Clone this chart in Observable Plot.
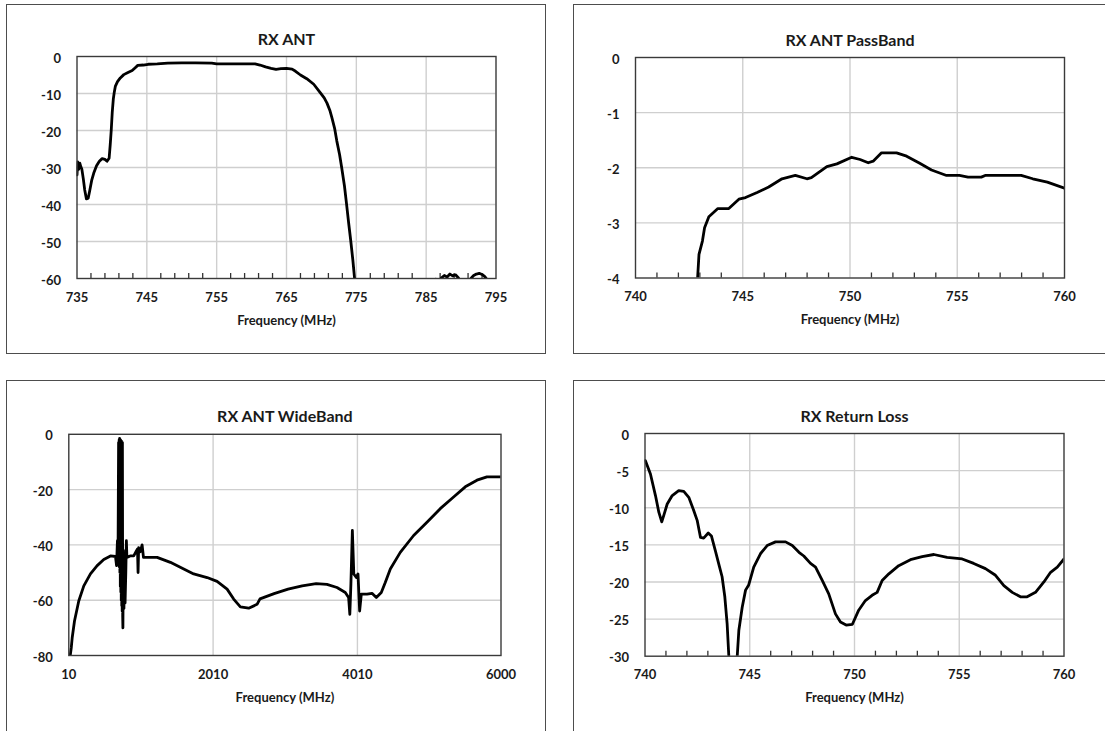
<!DOCTYPE html>
<html><head><meta charset="utf-8">
<script src="https://cdn.jsdelivr.net/npm/d3@7"></script>
<script src="https://cdn.jsdelivr.net/npm/@observablehq/plot@0.6"></script>
<style>
html,body{margin:0;padding:0;background:#fff;}
body{width:1105px;height:731px;overflow:hidden;position:relative;font-family:Lato,"Open Sans",sans-serif;}
.panel{position:absolute;overflow:hidden;}
.panel svg{position:absolute;left:0;top:0;max-width:none;}
.border{position:absolute;left:0;top:0;right:0;bottom:0;border:1px solid #4d4d4d;box-sizing:border-box;pointer-events:none;}
</style></head><body>
<script>
// ---------- Panel 1: RX ANT ----------
const rxAntTitle = "RX ANT";
const rxAntFreq = [735.0,735.1,735.25,735.4,735.55,735.7,735.9,736.1,736.35,736.6,736.8,737.1,737.4,737.8,738.2,738.6,739.0,739.3,739.6,739.75,739.9,740.05,740.2,740.35,740.5,740.8,741.2,741.7,742.3,742.9,743.3,743.7,744.5,745.2,746.5,748,750,752,754.3,755,757,759,760.5,761.2,762,762.8,763.5,764.2,765,765.8,766.3,767.0,767.9,768.9,769.8,770.4,770.8,771.2,771.5,771.9,772.2,772.6,772.9,773.3,773.6,773.9,774.2,774.5,774.75,775.0,780,786.0,786.4,786.8,787.2,787.6,788.0,788.4,788.8,789.2,789.6,790.0,791.0,791.4,791.8,792.2,792.6,793.0,793.4,793.8,794.2,795];
const rxAntLoss = [-32,-28.5,-30.5,-28.8,-29.8,-30.5,-33,-36,-38.5,-38.3,-36.5,-33.5,-31.5,-29.5,-28.3,-27.6,-27.8,-28.3,-27.5,-24,-20,-15,-11.5,-9.5,-8,-6.8,-5.8,-4.9,-4.3,-3.8,-3.1,-2.4,-2.3,-2.1,-2.0,-1.8,-1.7,-1.7,-1.8,-2.0,-2.0,-2.0,-2.0,-2.3,-2.8,-3.2,-3.5,-3.3,-3.2,-3.4,-4.0,-5.0,-6.0,-7.5,-9.7,-11.2,-12.6,-14.5,-16.5,-19.5,-22.8,-26.5,-30,-35,-39.9,-45,-49.8,-55,-60,-64,-68,-62,-60.2,-61,-59.8,-59.2,-59.6,-58.8,-59.3,-59.0,-59.8,-61,-62,-60,-59.2,-58.8,-58.6,-58.9,-59.5,-60.5,-62,-63];
const rxAntXTicks = [735,745,755,765,775,785,795];
const rxAntYTicks = [0,-10,-20,-30,-40,-50,-60];
const rxAntMinor = [737,739,741,743,747,749,751,753,757,759,761,763,767,769,771,773,777,779,781,783,787,789,791,793];

// ---------- Panel 2: RX ANT PassBand ----------
const passTitle = "RX ANT PassBand";
const passFreq = [742.85,742.96,743.12,743.22,743.42,743.84,744.35,744.82,745.13,745.67,746.21,746.83,747.45,747.99,748.2,748.92,749.39,750.08,750.47,750.85,751.08,751.47,752.17,752.64,753.25,753.8,754.5,755.1,755.5,756.12,756.3,757.98,758.52,759.2,760];
const passLoss = [-4.3,-3.57,-3.33,-3.09,-2.89,-2.74,-2.74,-2.57,-2.54,-2.45,-2.35,-2.20,-2.14,-2.20,-2.18,-1.98,-1.93,-1.81,-1.85,-1.91,-1.88,-1.73,-1.73,-1.79,-1.92,-2.04,-2.14,-2.14,-2.17,-2.17,-2.14,-2.14,-2.20,-2.26,-2.37];
const passXTicks = [740,745,750,755,760];
const passYTicks = [0,-1,-2,-3,-4];
const passMinor = [741,742,743,744,746,747,748,749,751,752,753,754,756,757,758,759];

// ---------- Panel 3: RX ANT WideBand ----------
const wideTitle = "RX ANT WideBand";
const wideFreq = [25,45,57,89,148,218,310,403,495,588,657,672,684,692,700,704,708,711,714,718,721,724,727,731,734,737,740,744,747,750,753,757,760,766,774,782,790,800,808,815,860,910,950,962,970,978,1000,1026,1045,1234,1418,1603,1741,1927,2065,2204,2295,2388,2503,2619,2660,2855,3049,3244,3438,3588,3727,3842,3888,3905,3920,3940,3960,3995,4018,4041,4064,4143,4212,4272,4341,4396,4466,4604,4789,4974,5158,5343,5505,5667,5805,6000];
const wideLoss = [-81,-77,-73.6,-67.5,-60.3,-54.8,-50.5,-47.5,-45.3,-44.0,-44.2,-47.5,-38.5,-46,-3,-40,-2,-48,-1.5,-50,-2,-55,-2,-57,-2.5,-60,-2.5,-62,-3,-64,-3,-66,-70,-42,-63,-46,-61,-50,-38.5,-44.5,-44,-44,-42,-41.5,-50,-41,-42.5,-40,-44.5,-44.5,-46.3,-48.7,-50.5,-51.8,-53.2,-56.0,-59.6,-62.4,-62.9,-61.5,-59.5,-57.6,-56,-54.8,-54,-54.3,-55.4,-57.2,-59,-65.1,-54,-34.8,-50.5,-51.8,-50.5,-63.9,-57.8,-57.8,-57.5,-59.0,-57.2,-53.6,-48.7,-42.7,-36.6,-31.8,-26.9,-22.7,-19.0,-16.6,-15.4,-15.4];
const wideXTicks = [10,2010,4010,6000];
const wideYTicks = [0,-20,-40,-60,-80];
const wideMinor = [];

// ---------- Panel 4: RX Return Loss ----------
const rlTitle = "RX Return Loss";
const rlFreq = [740.02,740.26,740.5,740.66,740.8,740.9,741.06,741.3,741.61,741.85,742.09,742.33,742.49,742.65,742.8,743.02,743.17,743.36,743.56,743.68,743.81,743.92,744.02,744.1,744.3,744.38,744.48,744.64,744.8,744.95,745.19,745.51,745.83,746.23,746.71,747.03,747.35,747.58,747.9,748.14,748.46,748.77,749.09,749.33,749.6,749.9,750.2,750.52,750.84,751.08,751.32,751.64,752.11,752.67,753.23,753.79,754.42,755.14,755.69,756.25,756.73,757.13,757.53,757.92,758.24,758.64,759.04,759.36,759.68,760];
const rlLoss = [-3.66,-5.45,-8.36,-10.6,-11.9,-11.0,-9.5,-8.36,-7.69,-7.8,-8.6,-10.4,-11.7,-14.0,-14.1,-13.4,-13.8,-15.8,-18.0,-19.3,-22.0,-25.6,-31,-36,-36,-31,-26.5,-23.4,-21.1,-20.4,-18.0,-16.2,-15.1,-14.6,-14.6,-15.1,-16.0,-16.5,-17.5,-18.0,-19.8,-21.6,-24.3,-25.4,-25.8,-25.7,-23.8,-22.5,-21.8,-21.4,-19.8,-18.9,-17.8,-17.0,-16.6,-16.3,-16.7,-16.9,-17.5,-18.2,-19.1,-20.5,-21.4,-22.0,-22.0,-21.4,-20.0,-18.7,-18.0,-16.9];
const rlXTicks = [740,745,750,755,760];
const rlYTicks = [0,-5,-10,-15,-20,-25,-30];
const rlMinor = [741,742,743,744,746,747,748,749,751,752,753,754,756,757,758,759];

const xLabel = "Frequency (MHz)";

// ---------- layout (page pixels) ----------
const layouts = [
  {box:[6,4,540,350],   plot:[76.5,495.5,56,278]},
  {box:[573,4,545,350], plot:[635,1064,57,277.5]},
  {box:[6,380,540,360], plot:[68.3,500.5,433.8,655]},
  {box:[573,380,545,360], plot:[644.5,1063.5,433,655.7]}
];

const panels = [
  {title: rxAntTitle, freq: rxAntFreq, loss: rxAntLoss, xt: rxAntXTicks, yt: rxAntYTicks, minor: rxAntMinor},
  {title: passTitle, freq: passFreq, loss: passLoss, xt: passXTicks, yt: passYTicks, minor: passMinor},
  {title: wideTitle, freq: wideFreq, loss: wideLoss, xt: wideXTicks, yt: wideYTicks, minor: wideMinor},
  {title: rlTitle, freq: rlFreq, loss: rlLoss, xt: rlXTicks, yt: rlYTicks, minor: rlMinor}
];

panels.forEach((p, i) => {
  const L = layouts[i];
  const [bx, by, bw, bh] = L.box;
  const [pl, pr, pt, pb] = L.plot;
  const ml = pl - bx, mr = bx + bw - pr, mt = pt - by, mb = by + bh - pb;
  const plotH = pb - pt;
  const xd = [p.xt[0], p.xt[p.xt.length - 1]];
  const yd = [p.yt[p.yt.length - 1], p.yt[0]];
  const data = d3.zip(p.freq, p.loss);
  const chart = Plot.plot({
    width: bw, height: bh,
    marginLeft: ml, marginRight: mr, marginTop: mt, marginBottom: mb,
    style: {fontFamily: "Lato, 'Open Sans', sans-serif", fontWeight: "bold", fontSize: "13px", color: "#1a1a1a", background: "white", maxWidth: "none"},
    x: {domain: xd},
    y: {domain: yd},
    marks: [
      Plot.gridX(p.xt.slice(1, -1), {stroke: "#cfcfcf", strokeOpacity: 1, strokeWidth: 1.4}),
      Plot.gridY(p.yt.slice(1, -1), {stroke: "#cfcfcf", strokeOpacity: 1, strokeWidth: 1.4}),
      Plot.ruleX(p.minor, {insetTop: plotH - 5, stroke: "#333", strokeWidth: 1.3}),
      Plot.line(data, {x: d => d[0], y: d => d[1], clip: true, stroke: "#000", strokeWidth: 2.8, strokeLinejoin: "round"}),
      Plot.frame({stroke: "#3a3a3a", strokeWidth: 1.4}),
      Plot.axisX({ticks: p.xt, tickSize: 0, tickPadding: 14, tickFormat: d => String(d), label: null, fontSize: 13, fontWeight: "bold"}),
      Plot.axisY({ticks: p.yt, tickSize: 0, tickPadding: 16, tickFormat: d => String(d), label: null, fontSize: 13, fontWeight: "bold", dy: 2}),
      Plot.text([p.title], {text: d => d, frameAnchor: "top", dy: -17, lineAnchor: "middle", fontSize: 16, fontWeight: "bold", fill: "#1a1a1a"}),
      Plot.text([xLabel], {text: d => d, frameAnchor: "bottom", dy: 42, lineAnchor: "middle", fontSize: 13, fontWeight: "bold", fill: "#1a1a1a"})
    ]
  });
  const div = document.createElement("div");
  div.className = "panel";
  div.style.left = bx + "px"; div.style.top = by + "px";
  div.style.width = bw + "px"; div.style.height = bh + "px";
  div.appendChild(chart);
  const border = document.createElement("div");
  border.className = "border";
  div.appendChild(border);
  document.body.appendChild(div);
});
</script>
</body></html>
